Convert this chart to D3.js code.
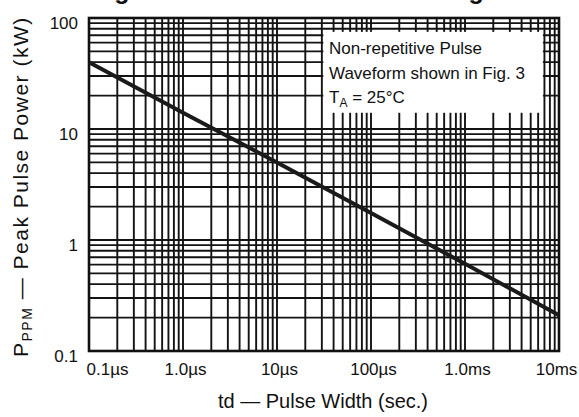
<!DOCTYPE html>
<html>
<head>
<meta charset="utf-8">
<script src="https://cdn.jsdelivr.net/npm/d3@7"></script>
<style>
body { margin: 0; background: #fff; }
text { font-family: "Liberation Sans", Arial, sans-serif; fill: #111; }
</style>
</head>
<body>
<div id="chart"></div>
<script>
//-----------------------------Data
var pulseWidth = [1e-7, 1e-6, 1e-5, 1e-4, 1e-3, 1e-2];   // sec
var peakPower = [40, 14, 5, 1.75, 0.61, 0.21];           // kW
var xTickValues = [1e-7, 1e-6, 1e-5, 1e-4, 1e-3, 1e-2];
var xTickLabels = ["0.1\u00b5s", "1.0\u00b5s", "10\u00b5s", "100\u00b5s", "1.0ms", "10ms"];
var yTickValues = [0.1, 1, 10, 100];
var yTickLabels = ["0.1", "1", "10", "100"];
var noteLines = ["Non-repetitive Pulse", "Waveform shown in Fig. 3"];

var w = 579;
var h = 417;
var margin = { left: 89, right: 20, top: 18, bottom: 66 };

var svg = d3.select("#chart")
    .append("svg")
    .attr("width", w)
    .attr("height", h);

var x = d3.scaleLog()
    .domain([1e-7, 1e-2])
    .range([margin.left, w - margin.right]);

var y = d3.scaleLog()
    .domain([0.1, 100])
    .range([h - margin.bottom, margin.top]);

// grid lines, every 1..9 of each decade
var xGrid = [];
var yGrid = [];
for (var e = -7; e < -2; e++) {
    for (var m = 1; m < 10; m++) xGrid.push(m * Math.pow(10, e));
}
for (var e2 = -1; e2 < 2; e2++) {
    for (var m2 = 1; m2 < 10; m2++) yGrid.push(m2 * Math.pow(10, e2));
}

var grid = svg.append("g")
    .attr("stroke", "#131313")
    .attr("stroke-width", 1.9);

grid.selectAll(".vx")
    .data(xGrid)
    .enter()
    .append("line")
    .attr("class", "vx")
    .attr("x1", function(d) { return x(d); })
    .attr("x2", function(d) { return x(d); })
    .attr("y1", y(100))
    .attr("y2", y(0.1));

grid.selectAll(".hy")
    .data(yGrid)
    .enter()
    .append("line")
    .attr("class", "hy")
    .attr("x1", x(1e-7))
    .attr("x2", x(1e-2))
    .attr("y1", function(d) { return y(d); })
    .attr("y2", function(d) { return y(d); });

// note box covers the grid
svg.append("rect")
    .attr("x", x(3e-5) + 1.5)
    .attr("y", y(75))
    .attr("width", x(7e-3) - x(3e-5) - 3)
    .attr("height", y(14) - y(75))
    .attr("fill", "#fff");

// frame
svg.append("rect")
    .attr("x", x(1e-7))
    .attr("y", y(100))
    .attr("width", x(1e-2) - x(1e-7))
    .attr("height", y(0.1) - y(100))
    .attr("fill", "none")
    .attr("stroke", "#111")
    .attr("stroke-width", 2.6);

// the curve
var line = d3.line()
    .x(function(d, i) { return x(pulseWidth[i]); })
    .y(function(d) { return y(d); });

svg.append("path")
    .datum(peakPower)
    .attr("d", line)
    .attr("fill", "none")
    .attr("stroke", "#1a1a1a")
    .attr("stroke-width", 4);

// axes (labels only, grid already drawn)
var xAxis = d3.axisBottom(x)
    .tickValues(xTickValues)
    .tickFormat(function(d, i) { return xTickLabels[i]; })
    .tickSize(0)
    .tickPadding(12);

var gx = svg.append("g")
    .attr("transform", "translate(0," + y(0.1) + ")")
    .call(xAxis);
gx.select(".domain").remove();
gx.selectAll("text")
    .attr("font-size", "17px")
    .style("font-family", "'Liberation Sans', Arial, sans-serif")
    .attr("fill", "#111")
    .attr("dx", function(d, i) {
        if (i == 0) return 18;
        if (i == xTickValues.length - 1) return -3;
        return 2;
    });

var yAxis = d3.axisLeft(y)
    .tickValues(yTickValues)
    .tickFormat(function(d, i) { return yTickLabels[i]; })
    .tickSize(0)
    .tickPadding(11);

var gy = svg.append("g")
    .attr("transform", "translate(" + x(1e-7) + ",0)")
    .call(yAxis);
gy.select(".domain").remove();
gy.selectAll("text")
    .attr("font-size", "17px")
    .style("font-family", "'Liberation Sans', Arial, sans-serif")
    .attr("fill", "#111")
    .attr("dy", "0.6em");

// note text
var note = svg.append("g")
    .attr("font-size", "17px");

note.selectAll(".nl")
    .data(noteLines)
    .enter()
    .append("text")
    .attr("class", "nl")
    .attr("x", 329)
    .attr("y", function(d, i) { return 54 + i * 25; })
    .text(function(d) { return d; });

var ta = note.append("text")
    .attr("x", 329)
    .attr("y", 103);
ta.append("tspan").text("T");
ta.append("tspan").attr("font-size", "12px").attr("dy", 4).text("A");
ta.append("tspan").attr("dy", -4).text(" = 25\u00b0C");

// axis titles
svg.append("text")
    .attr("x", 323)
    .attr("y", 408)
    .attr("text-anchor", "middle")
    .attr("font-size", "20px")
    .text("td \u2014 Pulse Width (sec.)");

var yt = svg.append("text")
    .attr("transform", "translate(28,357) rotate(-90)")
    .attr("font-size", "21px")
    .attr("letter-spacing", "1.5px");
yt.append("tspan").text("P");
yt.append("tspan").attr("font-size", "14px").attr("dy", 4).text("PPM");
yt.append("tspan").attr("dy", -4).text(" \u2014 Peak Pulse Power (kW)");

// figure title, cut off by the top edge (only descenders show)
svg.append("text")
    .attr("x", 92)
    .attr("y", -1.5)
    .attr("font-size", "25px")
    .attr("font-weight", "bold")
    .text("Fig. 1 \u2013 Peak Pulse Power Rating");
</script>
</body>
</html>
